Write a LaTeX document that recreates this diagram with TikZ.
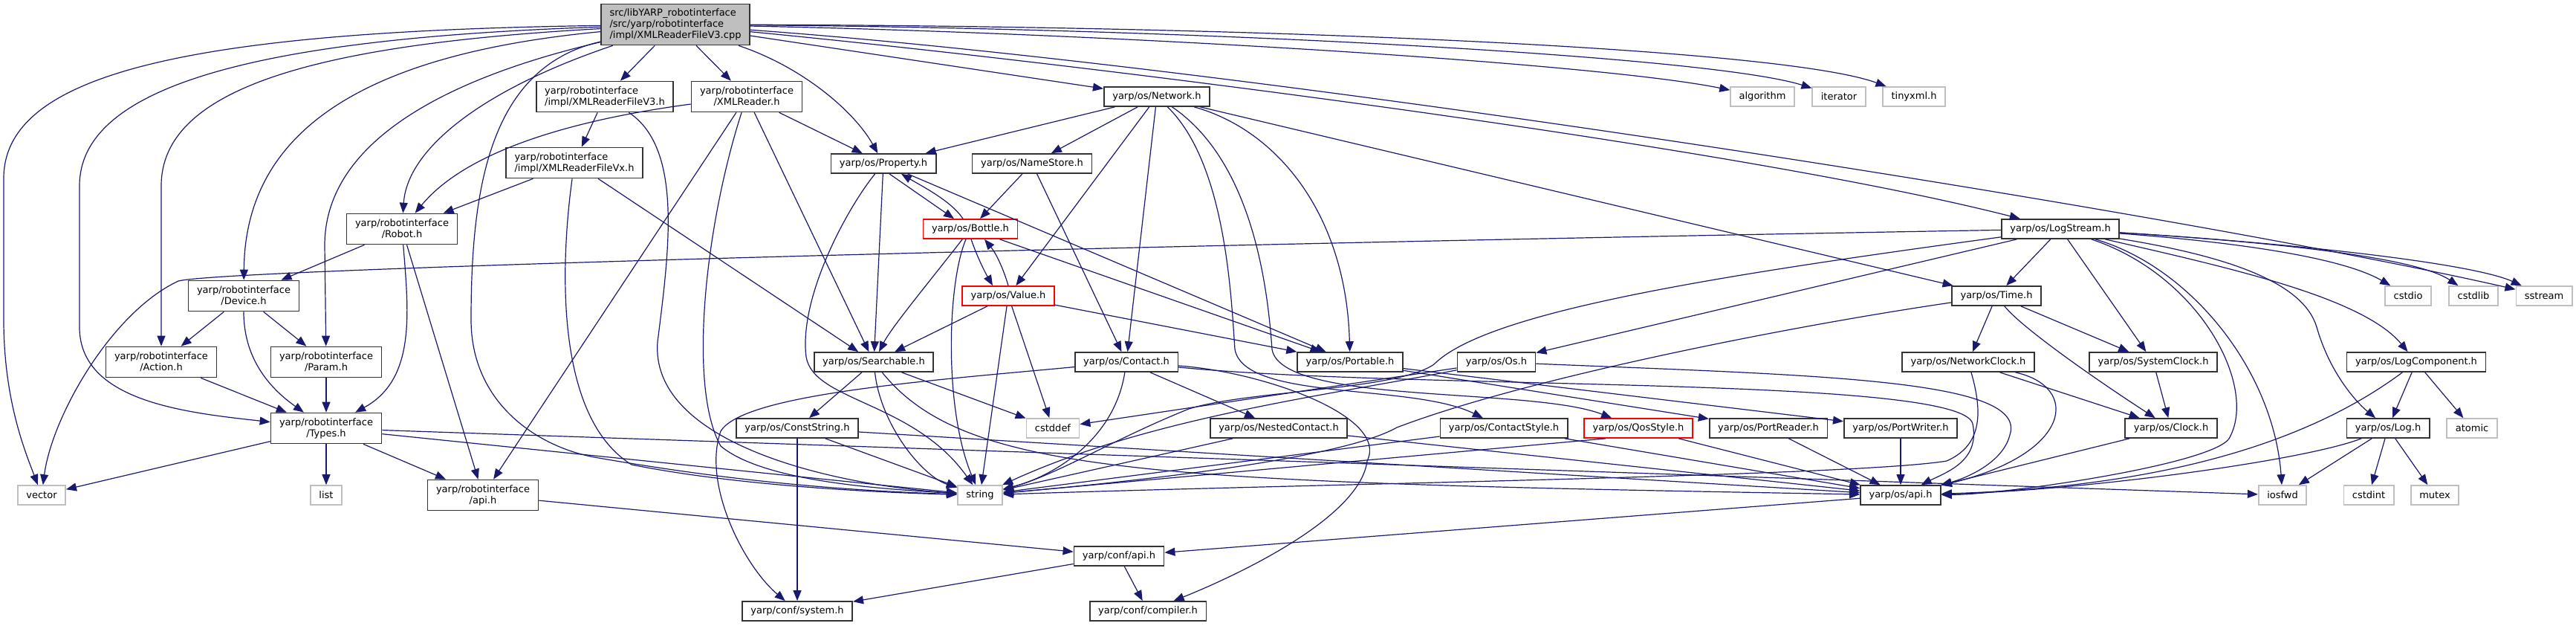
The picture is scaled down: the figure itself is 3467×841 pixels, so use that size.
\documentclass[tikz,border=0pt]{standalone}
\usepackage{fontspec}
\setmainfont{DejaVu Sans}
\usetikzlibrary{arrows.meta}
\definecolor{edgec}{HTML}{191970}
\definecolor{bord}{HTML}{333333}
\definecolor{extb}{HTML}{BFBFBF}
\definecolor{rootf}{HTML}{BFBFBF}
\begin{document}
\begin{tikzpicture}[x=0.5pt,y=-0.5pt,
  every node/.style={font=\fontsize{6.5}{7.5}\selectfont, align=center, inner xsep=5.75pt, inner ysep=1pt},
  doc/.style={draw=bord, fill=white, line width=0.85pt, minimum height=13pt},
  ext/.style={draw=extb, fill=white, line width=0.85pt, minimum height=13pt},
  trunc/.style={draw=red, fill=white, line width=0.85pt, minimum height=13pt},
  twol/.style={minimum height=20.5pt},
  dep/.style={draw=edgec, line width=0.6pt, -{Triangle[length=7pt,width=5.5pt]}}]
\useasboundingbox (0,0) rectangle (3467,841);
\fill[white] (0,0) rectangle (3467,841);

% nodes
\node[doc,fill=rootf,minimum height=27.5pt,align=left] (root) at (909,33) {src/libYARP\_robotinterface\\/src/yarp/robotinterface\\/impl/XMLReaderFileV3.cpp};
\node[doc,twol,align=left] (v3h) at (814,130) {yarp/robotinterface\\/impl/XMLReaderFileV3.h};
\node[doc,twol] (xmlreader) at (1005,130) {yarp/robotinterface\\/XMLReader.h};
\node[doc,twol,align=left] (vxh) at (773,219) {yarp/robotinterface\\/impl/XMLReaderFileVx.h};
\node[doc,twol] (robot) at (541,308) {yarp/robotinterface\\/Robot.h};
\node[doc,twol] (device) at (328,398) {yarp/robotinterface\\/Device.h};
\node[doc,twol] (action) at (217,487) {yarp/robotinterface\\/Action.h};
\node[doc,twol] (param) at (439,487) {yarp/robotinterface\\/Param.h};
\node[doc,twol] (types) at (439,576) {yarp/robotinterface\\/Types.h};
\node[ext] (vector) at (56,666) {vector};
\node[ext] (list) at (439,666) {list};
\node[doc,twol] (riapi) at (650,666) {yarp/robotinterface\\/api.h};
\node[doc] (property) at (1189,220) {yarp/os/Property.h};
\node[doc] (network) at (1557,130) {yarp/os/Network.h};
\node[doc] (namestore) at (1389,220) {yarp/os/NameStore.h};
\node[trunc] (bottle) at (1306,308) {yarp/os/Bottle.h};
\node[trunc] (value) at (1357,398) {yarp/os/Value.h};
\node[doc] (searchable) at (1176,487) {yarp/os/Searchable.h};
\node[doc] (contact) at (1516,487) {yarp/os/Contact.h};
\node[doc] (portable) at (1817,487) {yarp/os/Portable.h};
\node[doc] (os) at (2014,487) {yarp/os/Os.h};
\node[ext] (cstddef) at (1417,576) {cstddef};
\node[doc] (conststring) at (1073,576) {yarp/os/ConstString.h};
\node[doc] (nested) at (1721,576) {yarp/os/NestedContact.h};
\node[doc] (contactstyle) at (2024,576) {yarp/os/ContactStyle.h};
\node[trunc] (qos) at (2205,576) {yarp/os/QosStyle.h};
\node[doc] (portreader) at (2380,576) {yarp/os/PortReader.h};
\node[doc] (portwriter) at (2558,576) {yarp/os/PortWriter.h};
\node[ext] (string) at (1319,666) {string};
\node[doc] (osapi) at (2558,666) {yarp/os/api.h};
\node[doc] (confapi) at (1506,748) {yarp/conf/api.h};
\node[doc] (system) at (1073,822) {yarp/conf/system.h};
\node[doc] (compiler) at (1545,822) {yarp/conf/compiler.h};
\node[ext] (algorithm) at (2372,130) {algorithm};
\node[ext] (iterator) at (2475,130) {iterator};
\node[ext] (tinyxml) at (2576,130) {tinyxml.h};
\node[doc] (logstream) at (2773,308) {yarp/os/LogStream.h};
\node[doc] (time) at (2687,398) {yarp/os/Time.h};
\node[ext] (cstdio) at (3241,398) {cstdio};
\node[ext] (cstdlib) at (3329,398) {cstdlib};
\node[ext] (sstream) at (3424,398) {sstream};
\node[doc] (networkclock) at (2649,487) {yarp/os/NetworkClock.h};
\node[doc] (systemclock) at (2898,487) {yarp/os/SystemClock.h};
\node[doc] (clock) at (2922,576) {yarp/os/Clock.h};
\node[doc] (logcomponent) at (3252,487) {yarp/os/LogComponent.h};
\node[doc] (log) at (3214,576) {yarp/os/Log.h};
\node[ext] (atomic) at (3327,576) {atomic};
\node[ext] (iosfwd) at (3072,666) {iosfwd};
\node[ext] (cstdint) at (3188,666) {cstdint};
\node[ext] (mutex) at (3277,666) {mutex};

% root edges
\draw[dep] (root) -- (v3h);
\draw[dep] (root) -- (xmlreader);
\draw[dep] (root) .. controls (250,42) and (5,100) .. (5,240) -- (5,430) .. controls (5,540) and (35,610) .. (vector);
\draw[dep] (root) .. controls (330,52) and (107,120) .. (107,250) -- (107,440) .. controls (107,540) and (250,555) .. (types);
\draw[dep] (root) .. controls (420,60) and (217,120) .. (217,250) -- (action);
\draw[dep] (root) .. controls (500,72) and (330,170) .. (device);
\draw[dep] (root) .. controls (580,110) and (437,200) .. (437,330) -- (param);
\draw[dep] (root) .. controls (650,120) and (548,200) .. (robot);
\draw[dep] (root) .. controls (660,90) and (634,250) .. (634,430) .. controls (634,540) and (720,600) .. (800,615) .. controls (1000,650) and (1150,660) .. (string);
\draw[dep] (root) .. controls (1080,90) and (1150,150) .. (property);
\draw[dep] (root) -- (network);
\draw[dep] (root) .. controls (1500,90) and (2350,200) .. (logstream);
\draw[dep] (root) .. controls (1700,90) and (2950,290) .. (sstream);
\draw[dep] (root) .. controls (1500,45) and (2150,85) .. (algorithm);
\draw[dep] (root) .. controls (1600,38) and (2300,75) .. (iterator);
\draw[dep] (root) .. controls (1700,35) and (2400,65) .. (tinyxml);

% robotinterface edges
\draw[dep] (v3h) -- (vxh);
\draw[dep] (v3h) .. controls (920,200) and (900,340) .. (885,460) .. controls (875,590) and (1100,650) .. (string);
\draw[dep] (xmlreader) .. controls (780,160) and (630,200) .. (robot);
\draw[dep] (xmlreader) -- (riapi);
\draw[dep] (xmlreader) .. controls (950,300) and (925,520) .. (970,600) .. controls (1030,650) and (1200,658) .. (string);
\draw[dep] (xmlreader) -- (searchable);
\draw[dep] (xmlreader) -- (property);
\draw[dep] (vxh) -- (robot);
\draw[dep] (vxh) .. controls (755,350) and (745,560) .. (850,625) .. controls (1000,655) and (1200,663) .. (string);
\draw[dep] (vxh) -- (searchable);
\draw[dep] (robot) -- (device);
\draw[dep] (robot) .. controls (550,420) and (560,510) .. (types);
\draw[dep] (robot) -- (riapi);
\draw[dep] (device) -- (action);
\draw[dep] (device) -- (param);
\draw[dep] (device) .. controls (328,480) and (360,520) .. (types);
\draw[dep] (action) -- (types);
\draw[dep] (param) -- (types);
\draw[dep] (types) -- (vector);
\draw[dep] (types) -- (list);
\draw[dep] (types) -- (riapi);
\draw[dep] (types) -- (string);
\draw[dep] (types) -- (iosfwd);
\draw[dep] (riapi) -- (confapi);

% network
\draw[dep] (network) -- (property);
\draw[dep] (network) -- (namestore);
\draw[dep] (network) -- (value);
\draw[dep] (network) -- (contact);
\draw[dep] (network) .. controls (1720,175) and (1812,290) .. (portable);
\draw[dep] (network) -- (time);
\draw[dep] (network) .. controls (1650,220) and (1657,400) .. (1662,470) .. controls (1675,540) and (1900,515) .. (contactstyle);
\draw[dep] (network) .. controls (1690,220) and (1707,400) .. (1712,470) .. controls (1725,545) and (2060,520) .. (qos);
\draw[dep] (namestore) -- (bottle);
\draw[dep] (namestore) -- (contact);

% property / bottle / value
\draw[dep] ([xshift=4pt]property.south) -- ([xshift=-11pt]bottle.north);
\draw[dep] (property) -- (searchable);
\draw[dep] (property) .. controls (1140,280) and (1075,400) .. (1085,480) .. controls (1095,540) and (1230,540) .. (string);
\draw[dep] (property) -- (portable);
\draw[dep] ([xshift=-5pt]bottle.north) .. controls (1280,270) and (1240,250) .. ([xshift=12pt]property.south);
\draw[dep] ([xshift=0.5pt]bottle.south) .. controls (1315,345) and (1325,365) .. ([xshift=-10.5pt]value.north);
\draw[dep] (value.north) .. controls (1350,360) and (1340,340) .. ([xshift=9.5pt]bottle.south);
\draw[dep] (bottle) .. controls (1250,380) and (1200,440) .. (searchable);
\draw[dep] (bottle) .. controls (1275,380) and (1270,550) .. (string);
\draw[dep] (bottle) -- (portable);
\draw[dep] (value) -- (searchable);
\draw[dep] (value) -- (string);
\draw[dep] (value) -- (cstddef);
\draw[dep] (value) -- (portable);

% searchable / contact
\draw[dep] (searchable) -- (conststring);
\draw[dep] (searchable) .. controls (1185,570) and (1240,640) .. (string);
\draw[dep] (searchable) -- (cstddef);
\draw[dep] (searchable) .. controls (1300,640) and (1550,648) .. (osapi);
\draw[dep] (contact) .. controls (1500,590) and (1420,640) .. (string);
\draw[dep] (contact) -- (nested);
\draw[dep] (contact) .. controls (1250,512) and (1000,530) .. (970,580) .. controls (945,650) and (1000,760) .. (system);
\draw[dep] (contact) .. controls (1900,525) and (2640,505) .. (2655,570) .. controls (2665,620) and (2620,635) .. (osapi);
\draw[dep] (contact) .. controls (1700,500) and (1870,560) .. (1840,620) .. controls (1830,700) and (1650,780) .. (compiler);
\draw[dep] (nested) -- (string);
\draw[dep] (nested) -- (osapi);
\draw[dep] (contactstyle) -- (string);
\draw[dep] (contactstyle) -- (osapi);
\draw[dep] ([xshift=-22pt]qos.south) -- (string);
\draw[dep] (qos) -- (osapi);
\draw[dep] (os) .. controls (1800,530) and (1550,560) .. (string);
\draw[dep] (os) -- (cstddef);
\draw[dep] (os) .. controls (2450,505) and (2730,510) .. (2705,585) .. controls (2695,625) and (2640,645) .. (osapi);
\draw[dep] (portable) -- (portreader);
\draw[dep] (portable) -- (portwriter);
\draw[dep] (portreader) -- (osapi);
\draw[dep] (portwriter) -- (osapi);

% conf
\draw[dep] (confapi) -- (compiler);
\draw[dep] (confapi) -- (system);
\draw[dep] (conststring) -- (system);
\draw[dep] (conststring) -- (string);
\draw[dep] (conststring) -- (osapi);
\draw[dep] (osapi) -- (confapi);

% time / clocks
\draw[dep] (time) -- (networkclock);
\draw[dep] (time) .. controls (2720,440) and (2820,510) .. (clock);
\draw[dep] (time) -- (systemclock);
\draw[dep] (time) .. controls (2400,440) and (2050,510) .. (1880,575) .. controls (1800,620) and (1500,650) .. (string);
\draw[dep] (networkclock) -- (clock);
\draw[dep] (networkclock) .. controls (2670,560) and (2665,600) .. (2620,620) .. controls (2500,640) and (1800,650) .. (string);
\draw[dep] (networkclock) .. controls (2800,520) and (2790,610) .. (osapi);
\draw[dep] (systemclock) -- (clock);
\draw[dep] (clock) -- (osapi);

% logstream
\draw[dep] (logstream) -- (time);
\draw[dep] (logstream) -- (os);
\draw[dep] (logstream) -- (systemclock);
\draw[dep] (logstream) .. controls (3000,360) and (3180,400) .. (logcomponent);
\draw[dep] (logstream) .. controls (3000,345) and (3100,380) .. (3118,440) .. controls (3135,500) and (3170,540) .. (log);
\draw[dep] (logstream) .. controls (3000,325) and (3150,345) .. (cstdio);
\draw[dep] (logstream) .. controls (3050,325) and (3250,345) .. (cstdlib);
\draw[dep] (logstream) .. controls (3100,328) and (3330,355) .. (sstream);
\draw[dep] (logstream) .. controls (2950,360) and (3060,500) .. (iosfwd);
\draw[dep] (logstream) .. controls (2960,370) and (3040,520) .. (3000,590) .. controls (2975,625) and (2700,665) .. (osapi);
\draw[dep] (logstream) .. controls (1500,330) and (300,362) .. (240,378) .. controls (150,420) and (70,560) .. (vector);
\draw[dep] (logstream) .. controls (2300,372) and (2000,420) .. (1930,490) .. controls (1880,525) and (1680,525) .. (1600,550) .. controls (1500,590) and (1420,640) .. (string);

% log
\draw[dep] (logcomponent) -- (log);
\draw[dep] (logcomponent) -- (atomic);
\draw[dep] (logcomponent) .. controls (3100,600) and (2900,655) .. (osapi);
\draw[dep] (log) -- (iosfwd);
\draw[dep] (log) -- (cstdint);
\draw[dep] (log) -- (mutex);
\draw[dep] (log) .. controls (3100,620) and (2800,660) .. (osapi);
\end{tikzpicture}
\end{document}
